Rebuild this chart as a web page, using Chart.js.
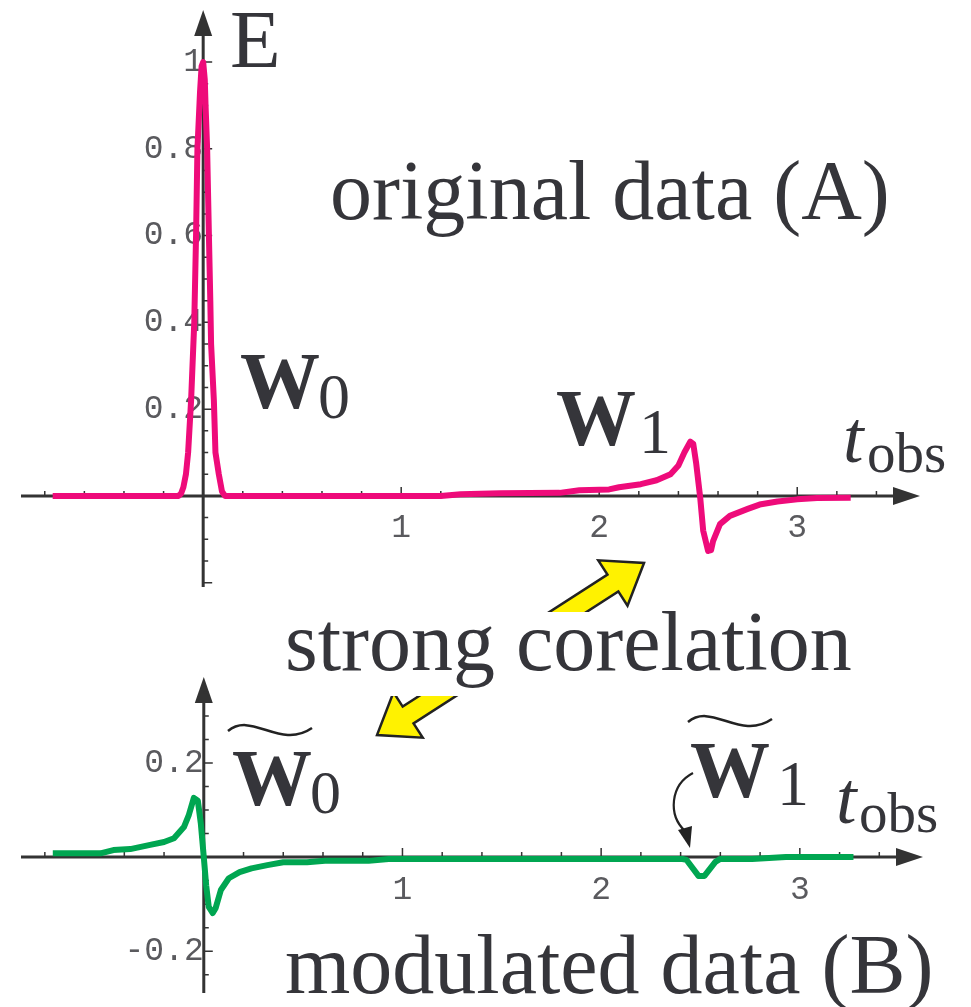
<!DOCTYPE html>
<html>
<head>
<meta charset="utf-8">
<script src="https://cdn.jsdelivr.net/npm/chart.js@4.4.1/dist/chart.umd.min.js"></script>
<style>
html, body { margin: 0; padding: 0; background: #fff; }
#wrap { position: relative; width: 971px; height: 1007px; }
canvas { position: absolute; left: 0; top: 0; }
</style>
</head>
<body>
<div id="wrap">
  <canvas id="chartA" width="971" height="1007"></canvas>
  <canvas id="chartB" width="971" height="1007"></canvas>
</div>
<script>
// original data (A) : E against t_obs
var origT = [-0.76, -0.125, -0.112, -0.1, -0.087, -0.076, -0.061, -0.045, -0.036, -0.029, -0.016, -0.008, 0.0,
  0.008, 0.012, 0.02, 0.029, 0.036, 0.04, 0.054, 0.062, 0.079, 0.095, 0.11, 0.5, 1.2, 1.3, 1.5, 1.8, 1.9,
  2.05, 2.1, 2.21, 2.29, 2.36, 2.4, 2.43, 2.46, 2.475, 2.49, 2.51, 2.525, 2.55, 2.565, 2.575, 2.61, 2.66,
  2.75, 2.81, 2.9, 3.0, 3.1, 3.27]
var origE = [0, 0, 0.005, 0.02, 0.05, 0.1, 0.22, 0.4, 0.6, 0.8, 0.93, 0.99, 1.0,
  0.96, 0.9, 0.8, 0.6, 0.45, 0.35, 0.22, 0.1, 0.05, 0.01, 0, 0, 0, 0.004, 0.006, 0.007, 0.013,
  0.015, 0.02, 0.027, 0.036, 0.05, 0.07, 0.1, 0.125, 0.12, 0.074, -0.004, -0.08, -0.127, -0.125, -0.104, -0.065, -0.046,
  -0.03, -0.02, -0.013, -0.008, -0.005, -0.004]

// modulated data (B)
var modT = [-0.76, -0.52, -0.455, -0.37, -0.27, -0.2, -0.15, -0.1, -0.075, -0.05, -0.03, -0.015, 0.0,
  0.012, 0.025, 0.045, 0.06, 0.086, 0.126, 0.18, 0.24, 0.32, 0.4, 0.52, 0.61, 0.83, 0.93, 2.41, 2.43,
  2.49, 2.52, 2.575, 2.6, 2.76, 2.93, 3.27]
var modE = [0.008, 0.008, 0.015, 0.017, 0.026, 0.032, 0.04, 0.064, 0.09, 0.126, 0.12, 0.072, 0.0,
  -0.06, -0.106, -0.119, -0.108, -0.07, -0.045, -0.032, -0.024, -0.017, -0.011, -0.011, -0.008, -0.008, -0.004, -0.004, -0.006,
  -0.04, -0.04, -0.01, -0.004, -0.004, 0, 0]

var tLabels = [1, 2, 3]
var eLabelsA = [0.2, 0.4, 0.6, 0.8, 1]
var eLabelsB = [-0.2, 0.2]

function steps(a, b, s) {
  var out = []
  for (var i = 0; a + i * s <= b + 1e-9; i++) out.push(Math.round((a + i * s) * 1000) / 1000)
  return out
}
var tTicks = steps(-0.8, 3.4, 0.2)
var eTicksA = steps(-0.2, 1.0, 0.05)
var eTicksB = steps(-0.25, 0.35, 0.05)

var ink = '#35353a'

function pts(xs, ys) {
  return xs.map(function (x, i) { return { x: x, y: ys[i] } })
}

function labelFor(list) {
  return function (value) {
    var hit = list.find(function (v) { return Math.abs(v - value) < 1e-6 })
    return hit === undefined ? '' : String(hit)
  }
}

function isMajor(v) {
  return Math.abs(v * 5 - Math.round(v * 5)) < 1e-6
}

// axes with arrows and inside ticks, Mathematica style
var axesPlugin = {
  id: 'axes',
  beforeDatasetsDraw(chart) {
    var ctx = chart.ctx, a = chart.chartArea
    var x = chart.scales.x, y = chart.scales.y
    var x0 = x.getPixelForValue(0), y0 = y.getPixelForValue(0)
    ctx.save()
    ctx.strokeStyle = '#333'
    ctx.fillStyle = '#333'
    ctx.lineWidth = 3
    ctx.beginPath()
    ctx.moveTo(a.left, y0); ctx.lineTo(a.right - 20, y0)
    ctx.moveTo(x0, a.bottom); ctx.lineTo(x0, a.top + 20)
    ctx.stroke()
    ctx.beginPath()
    ctx.moveTo(a.right, y0); ctx.lineTo(a.right - 27, y0 - 9); ctx.lineTo(a.right - 27, y0 + 9)
    ctx.closePath(); ctx.fill()
    ctx.beginPath()
    ctx.moveTo(x0, a.top); ctx.lineTo(x0 - 9, a.top + 26); ctx.lineTo(x0 + 9, a.top + 26)
    ctx.closePath(); ctx.fill()
    ctx.lineWidth = 1.5
    ctx.beginPath()
    x.ticks.forEach(function (t) {
      if (Math.abs(t.value) < 1e-9) return
      var px = x.getPixelForValue(t.value)
      var len = Number.isInteger(Math.round(t.value * 1000) / 1000) ? 9 : 5
      ctx.moveTo(px, y0); ctx.lineTo(px, y0 - len)
    })
    y.ticks.forEach(function (t) {
      if (Math.abs(t.value) < 1e-9) return
      var py = y.getPixelForValue(t.value)
      ctx.moveTo(x0, py); ctx.lineTo(x0 + (isMajor(t.value) ? 9 : 5), py)
    })
    ctx.stroke()
    ctx.restore()
  }
}

function txt(ctx, s, x, y, size, style) {
  ctx.font = (style || '') + ' ' + size + 'px "Liberation Serif", "Times New Roman", serif'
  ctx.fillText(s, x, y)
}

function tilde(ctx, x1, y1, x2, y2) {
  var w = x2 - x1
  ctx.beginPath()
  ctx.moveTo(x1, y1)
  ctx.bezierCurveTo(x1 + w * 0.28, y1 - 20, x1 + w * 0.62, y2 + 22, x2, y2)
  ctx.stroke()
}

var textA = {
  id: 'textA',
  afterDraw(chart) {
    var ctx = chart.ctx
    ctx.save()
    ctx.fillStyle = ink
    txt(ctx, 'E', 230, 67, 83)
    txt(ctx, 'original data (A)', 330, 219, 84)
    txt(ctx, 'W', 240, 408, 80, 'bold')
    txt(ctx, '0', 318, 418, 64)
    txt(ctx, 'W', 556, 445, 80, 'bold')
    txt(ctx, '1', 639, 453, 64)
    txt(ctx, 't', 843, 462, 74, 'italic')
    txt(ctx, 'obs', 867, 472, 57)
    ctx.restore()
  }
}

function bigArrow(ctx, ax, ay, bx, by) {
  var dx = ax - bx, dy = ay - by, L = Math.hypot(dx, dy)
  var ux = dx / L, uy = dy / L, nx = -uy, ny = ux
  var hl = 37, hw = 27, sw = 10
  var p = [
    [ax, ay],
    [ax - ux * hl + nx * hw, ay - uy * hl + ny * hw],
    [ax - ux * hl + nx * sw, ay - uy * hl + ny * sw],
    [bx + ux * hl + nx * sw, by + uy * hl + ny * sw],
    [bx + ux * hl + nx * hw, by + uy * hl + ny * hw],
    [bx, by],
    [bx + ux * hl - nx * hw, by + uy * hl - ny * hw],
    [bx + ux * hl - nx * sw, by + uy * hl - ny * sw],
    [ax - ux * hl - nx * sw, ay - uy * hl - ny * sw],
    [ax - ux * hl - nx * hw, ay - uy * hl - ny * hw]
  ]
  ctx.beginPath()
  p.forEach(function (q, i) { if (i) ctx.lineTo(q[0], q[1]); else ctx.moveTo(q[0], q[1]) })
  ctx.closePath()
  ctx.fillStyle = '#fff200'
  ctx.fill()
  ctx.lineWidth = 2.5
  ctx.strokeStyle = '#222'
  ctx.lineJoin = 'miter'
  ctx.stroke()
}

var textB = {
  id: 'textB',
  afterDraw(chart) {
    var ctx = chart.ctx
    ctx.save()
    bigArrow(ctx, 644, 563, 377, 735)
    ctx.fillStyle = '#fff'
    ctx.fillRect(278, 612, 574, 84)
    ctx.fillStyle = ink
    txt(ctx, 'strong corelation', 285, 670, 84)
    txt(ctx, 'modulated data (B)', 285, 993, 84)
    txt(ctx, 'W', 232, 805, 80, 'bold')
    txt(ctx, '0', 310, 813, 62)
    txt(ctx, 'W', 690, 797, 80, 'bold')
    txt(ctx, '1', 777, 805, 64)
    txt(ctx, 't', 836, 823, 74, 'italic')
    txt(ctx, 'obs', 859, 832, 57)
    ctx.strokeStyle = '#222'
    ctx.lineWidth = 2.5
    tilde(ctx, 228, 731, 312, 728)
    tilde(ctx, 688, 722, 772, 719)
    // small curved pointer to the W1 dip
    ctx.lineWidth = 2.2
    ctx.beginPath()
    ctx.moveTo(693, 773)
    ctx.bezierCurveTo(670, 785, 668, 815, 685, 831)
    ctx.stroke()
    ctx.fillStyle = '#222'
    ctx.beginPath()
    ctx.moveTo(690, 848); ctx.lineTo(678, 830); ctx.lineTo(692, 826)
    ctx.closePath(); ctx.fill()
    ctx.restore()
  }
}

function makeChart(el, xs, ys, color, yMin, yMax, eTicks, eLabels, pad, extra) {
  return new Chart(document.getElementById(el), {
    type: 'scatter',
    data: {
      datasets: [{
        data: pts(xs, ys),
        showLine: true,
        borderColor: color,
        borderWidth: 6,
        borderJoinStyle: 'round',
        pointRadius: 0,
        tension: 0,
        fill: false
      }]
    },
    options: {
      responsive: false,
      animation: false,
      events: [],
      layout: { padding: pad },
      plugins: { legend: { display: false }, tooltip: { enabled: false } },
      scales: {
        x: {
          type: 'linear',
          min: -0.92,
          max: 3.62,
          position: { y: 0 },
          grid: { display: false, drawTicks: false },
          border: { display: false },
          afterBuildTicks: function (s) { s.ticks = tTicks.map(function (v) { return { value: v } }) },
          afterFit: function (s) { s.paddingLeft = s.paddingRight = s.paddingTop = s.paddingBottom = 0 },
          ticks: {
            autoSkip: false,
            maxRotation: 0,
            padding: 13,
            color: '#5a5a5e',
            font: { family: '"Liberation Mono", monospace', size: 33 },
            callback: labelFor(tLabels)
          }
        },
        y: {
          type: 'linear',
          min: yMin,
          max: yMax,
          position: { x: 0 },
          grid: { display: false, drawTicks: false },
          border: { display: false },
          afterBuildTicks: function (s) { s.ticks = eTicks.map(function (v) { return { value: v } }) },
          afterFit: function (s) { s.paddingLeft = s.paddingRight = s.paddingTop = s.paddingBottom = 0 },
          ticks: {
            autoSkip: false,
            padding: 9,
            color: '#5a5a5e',
            font: { family: '"Liberation Mono", monospace', size: 33 },
            callback: labelFor(eLabels)
          }
        }
      }
    },
    plugins: [axesPlugin, extra]
  })
}

var chartA = makeChart('chartA', origT, origE, '#ee0b7a', -0.21, 1.12, eTicksA, eLabelsA,
  { left: 21, right: 51, top: 10, bottom: 420 }, textA)
var chartB = makeChart('chartB', modT, modE, '#00a651', -0.289, 0.383, eTicksB, eLabelsB,
  { left: 21, right: 48, top: 677, bottom: 14 }, textB)
</script>
</body>
</html>
